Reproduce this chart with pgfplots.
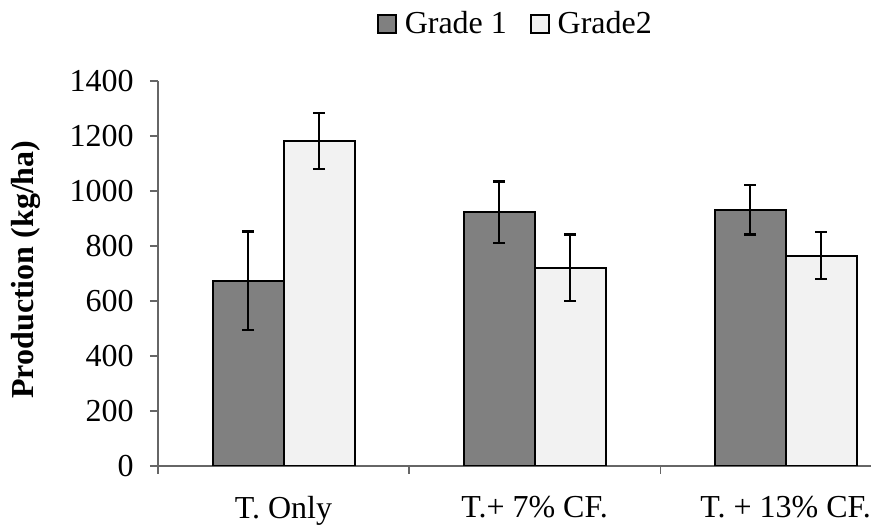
\documentclass[border=0pt]{standalone}
\usepackage{fontspec}
\setmainfont{Liberation Serif}
\usepackage{pgfplots}
\pgfplotsset{compat=1.18}
\definecolor{gone}{HTML}{808080}
\definecolor{gtwo}{HTML}{F2F2F2}
\begin{document}
\begin{tikzpicture}[font=\fontsize{16}{19}\selectfont]
\useasboundingbox (0,0) rectangle (435.5pt,264pt);
\begin{axis}[
  at={(79pt,31pt)}, anchor=south west,
  scale only axis, width=356.5pt, height=192.5pt,
  xmin=-0.5, xmax=2.34, ymin=0, ymax=1400,
  ybar=0pt, bar width=35.5pt,
  axis x line*=bottom, axis y line*=left,
  axis line style={draw=black!60, line width=0.6pt},
  tick style={draw=black!60, line width=0.6pt},
  tick align=outside, major tick length=4pt,
  ytick={0,200,...,1400},
  yticklabel style={xshift=-4.7pt},
  /pgf/number format/assume math mode=true,
  /pgf/number format/1000 sep={},
  xtick={-0.5,0.5,1.5}, xticklabels={},
  extra x ticks={0,1,2},
  extra x tick labels={T. Only, T.+ 7\% CF., T. + 13\% CF.},
  extra x tick style={major tick length=0pt, tick label style={yshift=-11.7pt}},
  ylabel={\textbf{Production (kg/ha)}},
  every axis y label/.style={at={(axis description cs:-0.185,0.51)}, rotate=90, anchor=center},
  legend style={at={(axis description cs:0.502,1.148)}, anchor=center, draw=none, fill=none,
    legend columns=2, /tikz/every even column/.append style={column sep=10pt},
    font=\fontsize{16}{19}\selectfont, inner sep=0pt,
    nodes={inner sep=1.5pt}},
  legend image code/.code={\draw[#1, draw=black, line width=0.8pt] (0pt,-4.5pt) rectangle (9pt,4.5pt);
    \path[draw=none, fill=none] (0pt,0pt) -- (12pt,0pt);},
]
\addplot[fill=gone, draw=black, line width=1pt,
  error bars/.cd, y dir=both, y explicit,
  error bar style={line width=1.2pt, draw=black},
  error mark options={rotate=90, mark size=3pt, line width=1.2pt, draw=black}]
  coordinates {(0,673) +- (0,179) (1,922) +- (0,112) (2,932) +- (0,90)};
\addlegendentry{Grade 1}
\addplot[fill=gtwo, draw=black, line width=1pt,
  error bars/.cd, y dir=both, y explicit,
  error bar style={line width=1.2pt, draw=black},
  error mark options={rotate=90, mark size=3pt, line width=1.2pt, draw=black}]
  coordinates {(0,1182) +- (0,101) (1,721) +- (0,121) (2,765) +- (0,85)};
\addlegendentry{Grade2}
\end{axis}
\end{tikzpicture}
\end{document}
